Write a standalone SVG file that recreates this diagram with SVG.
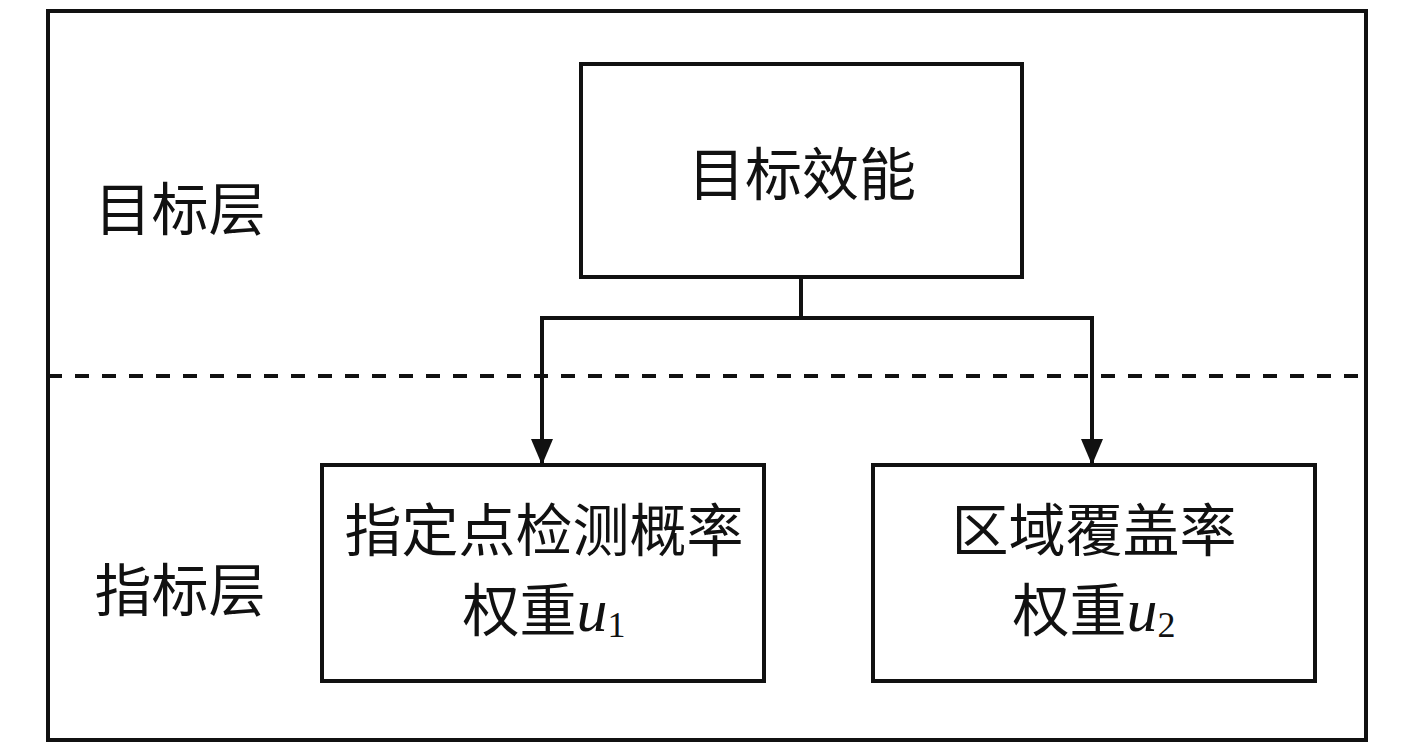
<svg xmlns="http://www.w3.org/2000/svg" width="1417" height="751" viewBox="0 0 1417 751">
<style>
.box{fill:#fff;stroke:#111;stroke-width:4}
.t{font-family:"Liberation Serif","Noto Sans CJK SC",serif;font-size:57px;fill:#111;text-anchor:middle}
.ln{fill:none;stroke:#111;stroke-width:4}
.u{font-style:italic;font-family:"Liberation Serif",serif;font-size:62px}
.s{font-family:"Liberation Serif",serif;font-size:36px}
</style>
<rect id="frame" x="48" y="11" width="1318" height="729" fill="#fff" stroke="#111" stroke-width="4"/>
<line x1="48" y1="376" x2="1366" y2="376" stroke="#111" stroke-width="4" stroke-dasharray="14 13"/>
<g id="layer-labels">
<text class="t" x="180" y="230">目标层</text>
<text class="t" x="180" y="611">指标层</text>
</g>
<g id="goal">
<rect class="box" x="581" y="64" width="441" height="213"/>
<text class="t" x="802" y="195">目标效能</text>
</g>
<g id="ind1">
<rect class="box" x="322" y="465" width="442" height="216"/>
<text class="t" x="544" y="551">指定点检测概率</text>
<text class="t" x="544" y="631">权重<tspan class="u">u</tspan><tspan class="s" dy="6">1</tspan></text>
</g>
<g id="ind2">
<rect class="box" x="873" y="465" width="442" height="216"/>
<text class="t" x="1094" y="551">区域覆盖率</text>
<text class="t" x="1094" y="631">权重<tspan class="u">u</tspan><tspan class="s" dy="6">2</tspan></text>
</g>
<g id="connectors">
<polyline class="ln" points="801,277 801,318"/>
<polyline class="ln" points="542,465 542,318 1092,318 1092,465"/>
<path d="M531,439 L553,439 L542,465 Z" fill="#111"/>
<path d="M1081,439 L1103,439 L1092,465 Z" fill="#111"/>
</g>
</svg>
